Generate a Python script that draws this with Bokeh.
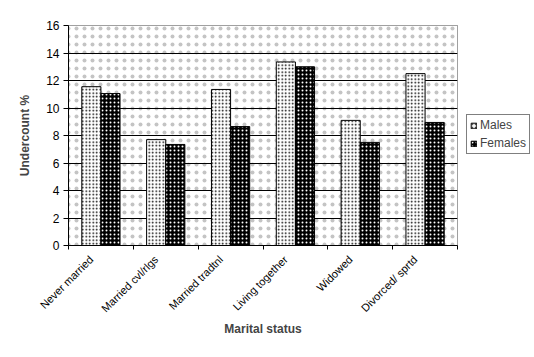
from bokeh.plotting import figure
from bokeh.layouts import row
from bokeh.models import ColumnDataSource, FixedTicker, Legend, LegendItem, Range1d
from bokeh.embed import file_html
from bokeh.resources import INLINE
from math import pi

categories = ["Never married", "Married cvl/rlgs", "Married tradtnl", "Living together", "Widowed", "Divorced/ sprtd"]
males = [11.55, 7.7, 11.35, 13.35, 9.1, 12.5]
females = [11.05, 7.35, 8.65, 13.0, 7.5, 8.95]
y_ticks = [0, 2, 4, 6, 8, 10, 12, 14, 16]

FONT = "Liberation Sans"
n = len(categories)
U = 20  # x units per category
centers = [U * i + U // 2 for i in range(n)]
label_pos = [c - 3 for c in centers]  # label anchor slightly left of the centre (as in the original)
bar_w = 0.295 * U
src = ColumnDataSource(dict(
    xm=[c - bar_w / 2 for c in centers],
    xf=[c + bar_w / 2 for c in centers],
    males=males, females=females))

x_lo, x_hi = 0, U * n
y_lo, y_hi = y_ticks[0], y_ticks[-1]

male_style = dict(fill_color="white", hatch_pattern="dot", hatch_color="black", hatch_scale=3.5,
                  line_color="black", line_width=1)
female_style = dict(fill_color="black", hatch_pattern="dot", hatch_color="white", hatch_scale=4,
                    line_color="black", line_width=1)

p = figure(frame_width=389, frame_height=220, output_backend="svg", toolbar_location=None,
           x_range=Range1d(x_lo, x_hi), y_range=Range1d(y_lo, y_hi),
           min_border_left=68, min_border_right=4, min_border_top=25, min_border_bottom=100)
p.background_fill_color = "white"
p.border_fill_color = "white"
p.outline_line_color = "#808080"
p.outline_line_width = 1

# dotted plot-area background
p.quad(left=[x_lo], right=[x_hi], bottom=[y_lo], top=[y_hi], fill_color="white",
       hatch_pattern="dot", hatch_color="#c4c4c4", hatch_scale=8, line_color=None, level="image")

p.xgrid.visible = False
p.ygrid.ticker = FixedTicker(ticks=y_ticks[1:-1])
p.ygrid.grid_line_color = "black"
p.ygrid.grid_line_width = 1

p.vbar(x="xm", top="males", width=bar_w, source=src, **male_style)
p.vbar(x="xf", top="females", width=bar_w, source=src, **female_style)

# axes
p.xaxis.ticker = FixedTicker(ticks=label_pos, minor_ticks=[U * i for i in range(n + 1)])
p.xaxis.major_label_overrides = {c: lab for c, lab in zip(label_pos, categories)}
p.xaxis.major_label_orientation = pi / 4
p.xaxis.major_tick_out = 0
p.xaxis.major_tick_in = 0
p.xaxis.minor_tick_out = 4
p.xaxis.minor_tick_in = 0
p.xaxis.minor_tick_line_color = "black"
p.xaxis.axis_line_color = "black"
p.xaxis.major_label_text_font = FONT
p.xaxis.major_label_text_font_size = "11px"
p.xaxis.major_label_text_color = "black"
p.xaxis.major_label_standoff = 8
p.xaxis.axis_label = "Marital status"
p.xaxis.axis_label_text_font = FONT
p.xaxis.axis_label_text_font_size = "12px"
p.xaxis.axis_label_text_font_style = "bold"
p.xaxis.axis_label_standoff = 0

p.yaxis.ticker = FixedTicker(ticks=y_ticks)
p.yaxis.major_tick_out = 5
p.yaxis.major_tick_in = 0
p.yaxis.minor_tick_line_color = None
p.yaxis.axis_line_color = "black"
p.yaxis.major_label_text_font = FONT
p.yaxis.major_label_text_font_size = "12px"
p.yaxis.major_label_text_color = "black"
p.yaxis.major_label_standoff = 4
p.yaxis.axis_label = "Undercount %"
p.yaxis.axis_label_text_font = FONT
p.yaxis.axis_label_text_font_size = "12px"
p.yaxis.axis_label_text_font_style = "bold"
p.yaxis.axis_label_standoff = 11

# legend lives in a small companion figure to the right of the chart
lg = figure(width=72, height=345, output_backend="svg", toolbar_location=None,
            x_range=Range1d(0, 1), y_range=Range1d(0, 1),
            min_border_left=0, min_border_right=0, min_border_top=0, min_border_bottom=0)
lg.axis.visible = False
lg.grid.visible = False
lg.outline_line_color = None
lg.background_fill_color = "white"
lg.border_fill_color = "white"
# legend-only renderers, placed outside the visible range
dm = lg.vbar(x=[5], top=[5], width=0.1, **male_style)
dfm = lg.vbar(x=[5], top=[5], width=0.1, **female_style)
legend = Legend(items=[LegendItem(label="Males", renderers=[dm]),
                       LegendItem(label="Females", renderers=[dfm])],
                location=(5, 91), border_line_color="black", border_line_width=1,
                label_text_font=FONT, label_text_font_size="12px",
                glyph_width=7, glyph_height=7, label_standoff=3, spacing=4,
                padding=3, margin=0, label_height=14)
lg.add_layout(legend)

layout = row(p, lg, spacing=0)
open("out.html", "w").write(file_html(layout, INLINE))
